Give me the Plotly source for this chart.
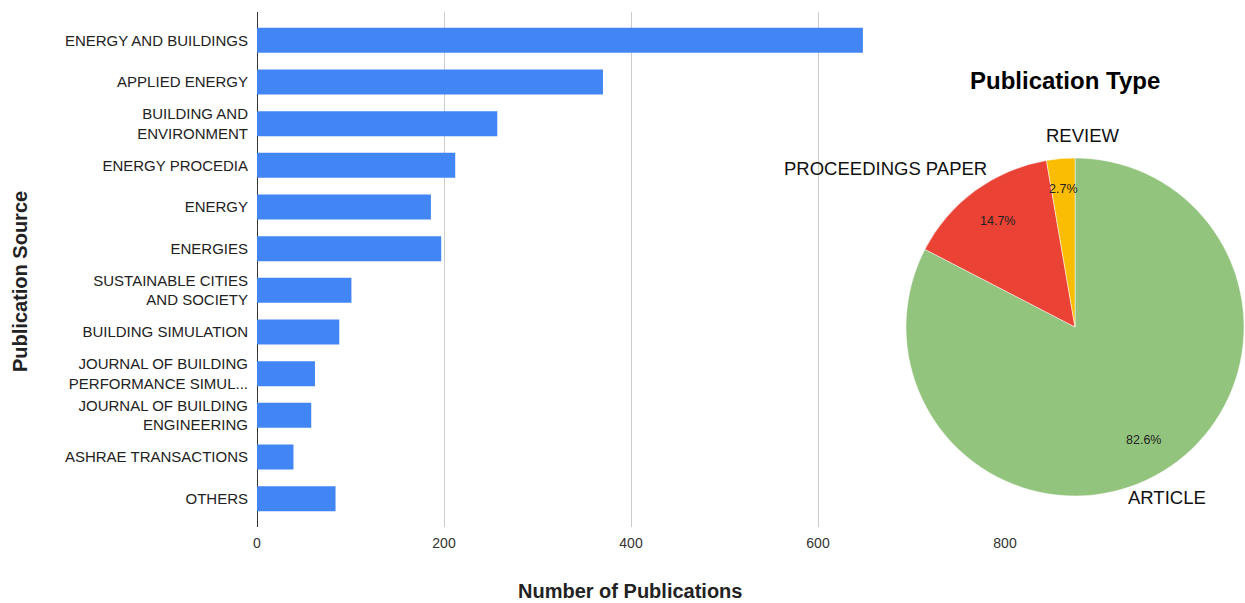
import math
import plotly.graph_objects as go

# ---- data ----
sources = [
    "ENERGY AND BUILDINGS",
    "APPLIED ENERGY",
    "BUILDING AND<br>ENVIRONMENT",
    "ENERGY PROCEDIA",
    "ENERGY",
    "ENERGIES",
    "SUSTAINABLE CITIES<br>AND SOCIETY",
    "BUILDING SIMULATION",
    "JOURNAL OF BUILDING<br>PERFORMANCE SIMUL...",
    "JOURNAL OF BUILDING<br>ENGINEERING",
    "ASHRAE TRANSACTIONS",
    "OTHERS",
]
publications = [648, 370, 257, 212, 186, 197, 101, 88, 62, 58, 39, 84]
x_ticks = [0, 200, 400, 600, 800]

pub_types = ["ARTICLE", "PROCEEDINGS PAPER", "REVIEW"]
pub_share = [82.6, 14.7, 2.7]
pie_colors = ["#93C47D", "#EA4335", "#FBBC04"]

FONT = "Liberation Sans, Arial, sans-serif"
W, H = 1245, 603

fig = go.Figure()

fig.add_trace(go.Bar(
    x=publications, y=sources, orientation="h",
    marker=dict(color="#4285F4", line=dict(width=0)),
    width=0.6, showlegend=False, hoverinfo="x+y",
))

# pie geometry (pixels)
pcx, pcy, pr = 1075, 327, 169
fig.add_trace(go.Pie(
    labels=pub_types, values=pub_share, sort=False, direction="clockwise",
    rotation=0, marker=dict(colors=pie_colors, line=dict(color="white", width=0.5)),
    textinfo="none", showlegend=False, hole=0,
    domain=dict(x=[(pcx - pr) / W, (pcx + pr) / W], y=[(H - pcy - pr) / H, (H - pcy + pr) / H]),
))


def ann(px, py, text, size, color, **kw):
    d = dict(x=px / W, y=1 - py / H, xref="paper", yref="paper", text=text,
             showarrow=False, xanchor="center", yanchor="middle",
             font=dict(family=FONT, size=size, color=color))
    d.update(kw)
    return d


annotations = []
# percentage labels at slice mid-angles
total = sum(pub_share)
cum = 0
for v in pub_share:
    mid = (cum + v / 2) / total * 2 * math.pi
    cum += v
    rf = 0.78 if v / total > 0.05 else 0.82
    px = pcx + math.sin(mid) * pr * rf
    py = pcy - math.cos(mid) * pr * rf
    annotations.append(ann(px, py, f"{v / total * 100:.1f}%", 12.5, "#222222"))

# outer slice labels
label_pos = {"ARTICLE": (1167, 497), "PROCEEDINGS PAPER": (886, 168), "REVIEW": (1083, 136)}
for name in pub_types:
    lx, ly = label_pos[name]
    annotations.append(ann(lx, ly, name, 18.5, "#111111"))

# titles
annotations += [
    ann(1065, 81, "<b>Publication Type</b>", 24, "#000000"),
    ann(630, 591, "<b>Number of Publications</b>", 20, "#222222"),
    ann(20, 282, "<b>Publication Source</b>", 20, "#222222", textangle=-90),
]

fig.update_layout(
    width=W, height=H,
    margin=dict(l=0, r=0, t=0, b=0),
    paper_bgcolor="white", plot_bgcolor="white",
    font=dict(family=FONT, size=15, color="#222222"),
    annotations=annotations,
    xaxis=dict(
        domain=[257 / W, 1005 / W], range=[0, 800], tickvals=x_ticks,
        showgrid=True, gridcolor="#CCCCCC", gridwidth=1,
        zeroline=True, zerolinecolor="#333333", zerolinewidth=1,
        showline=False, ticks="", ticklabelstandoff=6,
        tickfont=dict(family=FONT, size=14, color="#333333"),
        automargin=False, fixedrange=True,
    ),
    yaxis=dict(
        domain=[(H - 527) / H, (H - 12) / H],
        categoryorder="array", categoryarray=sources,
        range=[len(sources) - 0.32, -0.68],
        showgrid=False, zeroline=False, showline=False, ticks="",
        ticklabelstandoff=8,
        tickfont=dict(family=FONT, size=15, color="#222222"),
        automargin=False, fixedrange=True,
    ),
)

fig.write_html("out.html")
